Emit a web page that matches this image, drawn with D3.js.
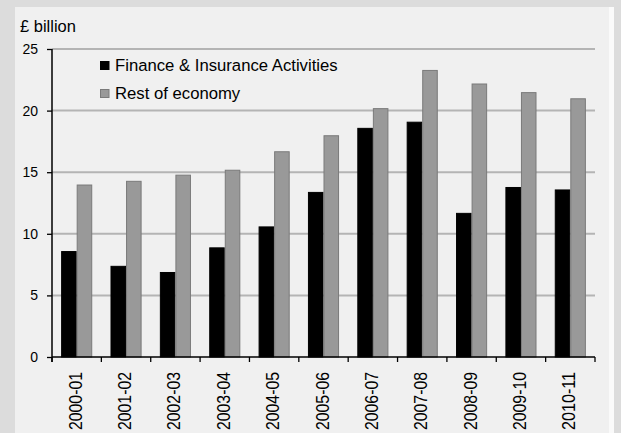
<!DOCTYPE html>
<html>
<head>
<meta charset="utf-8">
<script src="https://cdn.jsdelivr.net/npm/d3@7"></script>
<style>
  html, body { margin: 0; padding: 0; background: #dcdcdc; }
  svg { display: block; }
  text { font-family: "Liberation Sans", Arial, sans-serif; fill: #000; }
</style>
</head>
<body>
<svg id="chart" width="621" height="433"></svg>
<script>
const categories = ["2000-01","2001-02","2002-03","2003-04","2004-05","2005-06","2006-07","2007-08","2008-09","2009-10","2010-11"];
const seriesNames = ["Finance & Insurance Activities", "Rest of economy"];
const financeValues = [8.6, 7.4, 6.9, 8.9, 10.6, 13.4, 18.6, 19.1, 11.7, 13.8, 13.6];
const restValues = [14.0, 14.3, 14.8, 15.2, 16.7, 18.0, 20.2, 23.3, 22.2, 21.5, 21.0];
const yTicks = [0, 5, 10, 15, 20, 25];
const yLabel = "£ billion";

const fills = ["#000000", "#999999"];
const strokes = ["#000000", "#7a7a7a"];

const svg = d3.select("#chart");
// background panels
svg.append("rect").attr("x", 0).attr("y", 0).attr("width", 621).attr("height", 433).attr("fill", "#dcdcdc");
svg.append("rect").attr("x", 15).attr("y", 7).attr("width", 599).attr("height", 440).attr("fill", "#fafafa");
svg.append("rect").attr("x", 15).attr("y", 7).attr("width", 594).attr("height", 440).attr("fill", "#f0f0f0");

const plotLeft = 52, plotRight = 595, plotTop = 49, plotBottom = 357;

const y = d3.scaleLinear().domain([0, 25]).range([plotBottom, plotTop]);
const x0 = d3.scaleBand().domain(categories).range([plotLeft, plotRight]).paddingInner(0.37).paddingOuter(0.185);
const x1 = d3.scaleBand().domain([0, 1]).range([0, x0.bandwidth()]);

// gridlines
svg.append("g").selectAll("line").data(yTicks.filter(d => d > 0)).join("line")
  .attr("x1", plotLeft).attr("x2", plotRight)
  .attr("y1", d => y(d)).attr("y2", d => y(d))
  .attr("stroke", "#b4b4b4").attr("stroke-width", 2);

// bars
const rows = categories.map((c, i) => ({ c, vals: [financeValues[i], restValues[i]] }));
const groups = svg.append("g").selectAll("g").data(rows).join("g")
  .attr("transform", d => `translate(${x0(d.c)},0)`);
groups.selectAll("rect").data(d => d.vals.map((v, k) => ({ v, k }))).join("rect")
  .attr("x", d => x1(d.k) + 0.5)
  .attr("width", x1.bandwidth() - 1)
  .attr("y", d => y(d.v) + 0.5)
  .attr("height", d => plotBottom - y(d.v) - 0.5)
  .attr("fill", d => fills[d.k])
  .attr("stroke", d => strokes[d.k])
  .attr("stroke-width", 1);

// y axis
const yAxis = d3.axisLeft(y).tickValues(yTicks).tickSize(5).tickPadding(9).tickFormat(d3.format("d"));
const gy = svg.append("g").attr("transform", `translate(${plotLeft},0)`).call(yAxis);
gy.select(".domain").remove();
gy.selectAll(".tick line").attr("stroke", "#000").attr("stroke-width", 1.3);
gy.selectAll(".tick text").attr("font-size", 14).attr("font-family", "Liberation Sans, Arial, sans-serif");
svg.append("line").attr("x1", plotLeft).attr("x2", plotLeft).attr("y1", plotTop).attr("y2", plotBottom + 5)
  .attr("stroke", "#000").attr("stroke-width", 1.5);

// x axis
svg.append("line").attr("x1", plotLeft).attr("x2", plotRight).attr("y1", plotBottom).attr("y2", plotBottom)
  .attr("stroke", "#000").attr("stroke-width", 1.5);
const step = x0.step();
const boundaries = d3.range(categories.length + 1).map(i => plotLeft + i * step);
svg.append("g").selectAll("line").data(boundaries).join("line")
  .attr("x1", d => d).attr("x2", d => d)
  .attr("y1", plotBottom).attr("y2", plotBottom + 5)
  .attr("stroke", "#000").attr("stroke-width", 1.3);

svg.append("g").selectAll("text").data(categories).join("text")
  .attr("transform", d => `translate(${x0(d) + x0.bandwidth() / 2 + 5},${plotBottom + 15}) rotate(-90)`)
  .attr("text-anchor", "end")
  .attr("font-size", 19)
  .attr("textLength", 58)
  .attr("lengthAdjust", "spacingAndGlyphs")
  .text(d => d);

// y label
svg.append("text").attr("x", 20).attr("y", 32).attr("font-size", 16.5).text(yLabel);

// legend
const legend = svg.append("g").selectAll("g").data(seriesNames).join("g")
  .attr("transform", (d, i) => `translate(100,${61 + i * 28})`);
legend.append("rect").attr("x", 0.5).attr("y", 0.5).attr("width", 8.5).attr("height", 8)
  .attr("fill", (d, i) => fills[i]).attr("stroke", (d, i) => strokes[i]);
legend.append("text").attr("x", 15).attr("y", 9.5).attr("font-size", 16.7).text(d => d);
</script>
</body>
</html>
